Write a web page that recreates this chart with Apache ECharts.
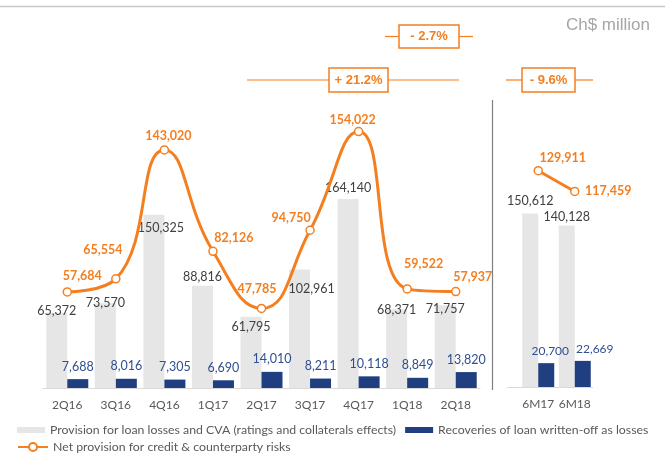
<!DOCTYPE html>
<html>
<head>
<meta charset="utf-8">
<script src="https://cdn.jsdelivr.net/npm/echarts@6/dist/echarts.min.js"></script>
<style>
html, body { margin: 0; padding: 0; background: #fff; }
#main { width: 665px; height: 453px; }
</style>
</head>
<body>
<div id="main"></div>
<script>
// quarterly block
var quarters = ['2Q16', '3Q16', '4Q16', '1Q17', '2Q17', '3Q17', '4Q17', '1Q18', '2Q18'];
var provisionQ = [65372, 73570, 150325, 88816, 61795, 102961, 164140, 68371, 71757];
var recoveriesQ = [7688, 8016, 7305, 6690, 14010, 8211, 10118, 8849, 13820];
var netQ = [57684, 65554, 143020, 82126, 47785, 94750, 154022, 59522, 57937];

// half-year block
var halves = ['6M17', '6M18'];
var provisionH = [150612, 140128];
var recoveriesH = [20700, 22669];
var netH = [129911, 117459];

// change badges
var changeLabels = ['+ 21.2%', '- 2.7%', '- 9.6%'];

var names = [
    'Provision for loan losses and CVA (ratings and collaterals effects)',
    'Recoveries of loan written-off as losses',
    'Net provision for credit & counterparty risks'
];

var colors = {
    gray: '#e7e6e6',
    blue: '#1f3f80',
    orange: '#f47f20',
    grayText: '#404040',
    blueText: '#2f4f8f',
    axisText: '#595959'
};
var FONT = 'Lato';

// label nudges (Excel labels were hand placed)
var provNudgeQ = [[0, 9.5], [0, 11.5], [7, 24.5], [0, 2.5], [0, 21.5], [12, 31], [0, 0.5], [0, 12.5], [0, 15.5]];
var provNudgeH = [[0, -1], [0, 3]];
var recNudgeQ = [[0, 0], [0, 0], [0, 0], [0, 0], [0, 0], [0, 0], [0, 0], [0, 0], [0, 0]];
var recNudgeH = [[4, 0], [12, 0]];
var netNudgeQ = [[15, -16], [-13, -29], [4, -14], [21, -13], [-4.5, -19], [-19, -12], [-6, -12], [16.5, -25], [17, -15]];
var netNudgeH = [[24.5, -13], [33.5, 0]];

function fmt(v) {
    return v.toLocaleString('en-US');
}

function withNudge(values, nudges) {
    return values.map(function (v, i) {
        return { value: v, label: { offset: nudges[i] } };
    });
}

function barSeries(name, values, xi, yi, color, width, labelColor, distance, size) {
    return {
        name: name,
        type: 'bar',
        xAxisIndex: xi,
        yAxisIndex: yi,
        data: values,
        barWidth: width,
        barGap: '0%',
        itemStyle: { color: color },
        label: {
            show: true,
            position: 'top',
            distance: distance,
            color: labelColor,
            fontFamily: FONT,
            fontSize: size,
            formatter: function (p) { return fmt(p.value); }
        }
    };
}

function lineSeries(name, values, xi, yi, smooth) {
    return {
        name: name,
        type: 'line',
        xAxisIndex: xi,
        yAxisIndex: yi,
        data: values,
        smooth: smooth,
        symbol: 'circle',
        symbolSize: 8,
        z: 5,
        lineStyle: { color: colors.orange, width: 3 },
        itemStyle: { color: '#fff', borderColor: colors.orange, borderWidth: 1.5 },
        label: {
            show: true,
            position: 'inside',
            color: colors.orange,
            fontFamily: FONT,
            fontWeight: 'bold',
            fontSize: 12.5,
            formatter: function (p) { return fmt(p.value); }
        }
    };
}

function badge(text, x, y, w, h, lineL, lineR) {
    var midY = y + h / 2;
    var stroke = { stroke: colors.orange, lineWidth: 1.2 };
    return [
        { type: 'line', shape: { x1: lineL, y1: midY, x2: x, y2: midY }, style: stroke },
        { type: 'line', shape: { x1: x + w, y1: midY, x2: lineR, y2: midY }, style: stroke },
        {
            type: 'rect', shape: { x: x, y: y, width: w, height: h },
            style: { fill: '#fff', stroke: colors.orange, lineWidth: 1.5 }
        },
        {
            type: 'text', x: x + w / 2, y: midY,
            style: {
                text: text, fill: colors.orange, font: 'bold 13px "Liberation Sans"',
                textAlign: 'center', textVerticalAlign: 'middle'
            }
        }
    ];
}

var xAxisBase = {
    type: 'category',
    axisTick: { show: false },
    axisLabel: { color: colors.axisText, fontFamily: FONT, fontSize: 12, margin: 11, interval: 0 },
    splitLine: { show: false }
};

var option = {
    animation: false,
    grid: [
        { left: 43, width: 437, top: 100, height: 288 },
        { left: 520, width: 73, top: 99, height: 288 }
    ],
    xAxis: [
        Object.assign({}, xAxisBase, {
            gridIndex: 0, data: quarters,
            axisLine: { lineStyle: { color: '#d9d9d9', width: 1 } }
        }),
        Object.assign({}, xAxisBase, {
            gridIndex: 1, data: halves,
            axisLine: { show: false }
        })
    ],
    yAxis: [
        { type: 'value', gridIndex: 0, min: 0, max: 250000, show: false },
        { type: 'value', gridIndex: 0, min: 0, max: 173000, show: false },
        { type: 'value', gridIndex: 1, min: 0, max: 250000, show: false },
        { type: 'value', gridIndex: 1, min: 0, max: 173000, show: false }
    ],
    legend: [
        {
            left: 12, top: 419, itemWidth: 28, itemHeight: 6, itemGap: 9,
            icon: 'rect', selectedMode: false,
            data: [names[0], names[1]],
            textStyle: { color: colors.axisText, fontFamily: FONT, fontSize: 12.3 }
        },
        {
            left: 12, top: 436, itemWidth: 30, itemHeight: 10,
            selectedMode: false,
            data: [names[2]],
            textStyle: { color: colors.axisText, fontFamily: FONT, fontSize: 12.3 }
        }
    ],
    graphic: [
        { type: 'line', shape: { x1: 0, y1: 6.5, x2: 665, y2: 6.5 }, style: { stroke: '#c8c8c8', lineWidth: 1.5 } },
        {
            type: 'text', x: 650, y: 25,
            style: {
                text: 'Ch$ million', fill: '#a6a6a6', font: '17px "Liberation Sans"',
                textAlign: 'right', textVerticalAlign: 'middle'
            }
        },
        { type: 'line', shape: { x1: 492.5, y1: 100, x2: 492.5, y2: 390 }, style: { stroke: '#7f7f7f', lineWidth: 1.2 } },
        { type: 'line', shape: { x1: 507, y1: 387.5, x2: 593, y2: 387.5 }, style: { stroke: '#d9d9d9', lineWidth: 1 } }
    ]
        .concat(badge(changeLabels[0], 329, 68, 59, 24, 247, 459))
        .concat(badge(changeLabels[1], 399, 25, 60, 23, 385, 473))
        .concat(badge(changeLabels[2], 522, 68, 53, 24, 506, 593)),
    series: [
        barSeries(names[0], withNudge(provisionQ, provNudgeQ), 0, 0, colors.gray, 21, colors.grayText, 5, 12.5),
        barSeries(names[1], withNudge(recoveriesQ, recNudgeQ), 0, 0, colors.blue, 21, colors.blueText, 6, 12.5),
        lineSeries(names[2], withNudge(netQ, netNudgeQ), 0, 1, 0.5),
        barSeries(names[0], withNudge(provisionH, provNudgeH), 1, 2, colors.gray, 16, colors.grayText, 5, 12.5),
        barSeries(names[1], withNudge(recoveriesH, recNudgeH), 1, 2, colors.blue, 16, colors.blueText, 6, 12),
        lineSeries(names[2], withNudge(netH, netNudgeH), 1, 3, false)
    ]
};

var chart = echarts.init(document.getElementById('main'));
chart.setOption(option);
</script>
</body>
</html>
